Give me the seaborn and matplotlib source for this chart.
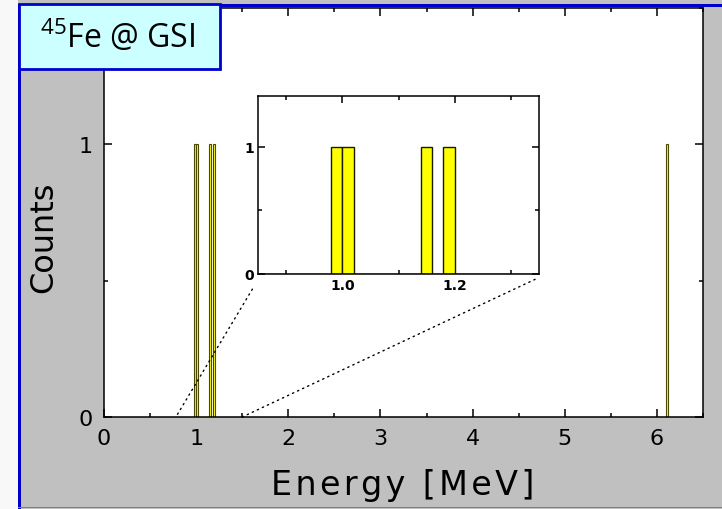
import matplotlib
matplotlib.use("Agg")
import matplotlib.pyplot as plt
from matplotlib.patches import Rectangle, ConnectionPatch
from matplotlib.ticker import MultipleLocator
import numpy as np
import seaborn as sns

# measured event energies (MeV), one count each
energy = [0.99, 1.01, 1.15, 1.19, 6.11]
bin_width = 0.02
main_xlim = (0, 6.5)
main_ylim = (0, 1.5)
inset_xlim = (0.85, 1.35)
inset_ylim = (0, 1.4)
zoom_from = (0.78, 1.5)   # where the dotted guide lines hit the main x axis

title_text = r"$^{45}$Fe @ GSI"
x_label = "\u200a".join("Energy [MeV]")
y_label = "Counts"

sns.set_style("ticks")
plt.rcParams["font.family"] = ["DejaVu Sans"]
plt.rcParams["mathtext.fontset"] = "custom"
plt.rcParams["mathtext.rm"] = "Open Sans"
plt.rcParams["text.color"] = "black"
plt.rcParams["xtick.color"] = "black"
plt.rcParams["ytick.color"] = "black"
plt.rcParams["xtick.labelcolor"] = "black"
plt.rcParams["ytick.labelcolor"] = "black"

W, H = 722, 510
fig = plt.figure(figsize=(W / 100, H / 100), dpi=100, facecolor="#c0c0c0")


def box(x0, y0, x1, y1):
    # pixel box (top-left origin) -> figure fraction rect
    return [x0 / W, 1 - y1 / H, (x1 - x0) / W, (y1 - y0) / H]


def frame(ax):
    ax.set_facecolor("white")
    for s in ax.spines.values():
        s.set_color("black")
        s.set_linewidth(1.1)
        s.set_visible(True)
    ax.tick_params(which="both", direction="in", top=True, right=True,
                   color="black", labelcolor="black", width=1.1)
    ax.set_xlabel("")
    ax.set_ylabel("")


# main histogram
ax = fig.add_axes(box(104, 9, 703, 418))
sns.histplot(x=energy, bins=np.round(np.arange(0, 6.5 + 0.01, bin_width), 2),
             color="#ffff00", edgecolor="#4a4a00", linewidth=0.8, alpha=1, ax=ax)
frame(ax)
ax.set_xlim(*main_xlim)
ax.set_ylim(*main_ylim)
ax.xaxis.set_major_locator(MultipleLocator(1))
ax.xaxis.set_minor_locator(MultipleLocator(0.5))
ax.yaxis.set_major_locator(MultipleLocator(1))
ax.yaxis.set_minor_locator(MultipleLocator(0.5))
ax.tick_params(which="major", length=6, labelsize=16, pad=8)
ax.tick_params(which="minor", length=3)

# inset zoom
ins = fig.add_axes(box(258, 97, 539, 275))
sns.histplot(x=energy, bins=np.round(np.arange(0.84, 1.36 + 0.01, bin_width), 2),
             color="#ffff00", edgecolor="#1a1a00", linewidth=1.0, alpha=1, ax=ins)
frame(ins)
ins.set_xlim(*inset_xlim)
ins.set_ylim(*inset_ylim)
ins.xaxis.set_major_locator(MultipleLocator(0.2))
ins.xaxis.set_minor_locator(MultipleLocator(0.1))
ins.yaxis.set_major_locator(MultipleLocator(1))
ins.yaxis.set_minor_locator(MultipleLocator(0.5))
ins.xaxis.set_major_formatter(lambda v, p: f"{v:.1f}")
ins.tick_params(which="major", length=5, labelsize=10, pad=3)
ins.tick_params(which="minor", length=3)
for t in ins.get_xticklabels() + ins.get_yticklabels():
    t.set_fontweight("bold")

# dotted guide lines from inset to main axis
for a, b in [((-0.02, -0.085), zoom_from[0]), ((0.986, -0.03), zoom_from[1])]:
    cp = ConnectionPatch(xyA=a, coordsA="axes fraction", axesA=ins,
                         xyB=(b, 0), coordsB="data", axesB=ax,
                         color="black", linestyle=(0, (1, 3)), linewidth=1)
    fig.add_artist(cp)

# axis labels
fig.text(403 / W, 1 - 486 / H, x_label, ha="center", va="center", fontsize=24,
         color="black")
fig.text(44 / W, 1 - 237 / H, y_label, ha="center", va="center",
         rotation=90, fontsize=23, color="black")

# slide decorations
fig.add_artist(Rectangle((0, 0), 18 / W, 1, transform=fig.transFigure,
                         facecolor="#f8f8f8", edgecolor="none", zorder=5))
fig.add_artist(Rectangle((18 / W, 0), 3 / W, 1 - 5 / H, transform=fig.transFigure,
                         facecolor="#0000cc", edgecolor="none", zorder=5))
fig.add_artist(Rectangle((18 / W, 1 - 8 / H), 1, 3 / H, transform=fig.transFigure,
                         facecolor="#0000cc", edgecolor="none", zorder=5))
fig.add_artist(Rectangle((18 / W, 1 / H), 1, 1.2 / H, transform=fig.transFigure,
                         facecolor="#7777bb", edgecolor="none", zorder=5))

# title box
x0, y0, w, h = box(19, 5, 220, 70)
fig.add_artist(Rectangle((x0, y0), w, h, transform=fig.transFigure,
                         facecolor="#ccffff", edgecolor="#0000cc", linewidth=2,
                         zorder=6))
fig.text(118 / W, 1 - 38 / H, title_text, ha="center", va="center",
         fontsize=23, family=["Open Sans", "DejaVu Sans"], color="black",
         zorder=7)

fig.savefig("out.png", dpi=100, facecolor=fig.get_facecolor())
